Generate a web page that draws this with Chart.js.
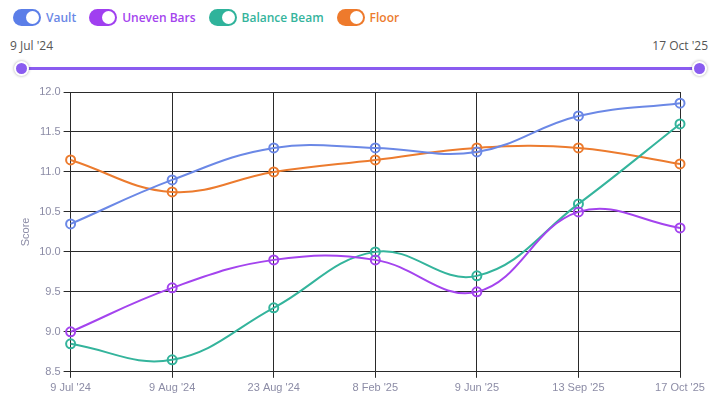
<!DOCTYPE html>
<html>
<head>
<meta charset="utf-8">
<script src="https://cdn.jsdelivr.net/npm/chart.js@4"></script>
<style>
  body { margin: 0; background: #fff; font-family: "Open Sans", Arial, sans-serif; }
  #wrap { position: relative; width: 724px; height: 415px; }
  #legend { position: absolute; left: 13px; top: 9px; display: flex; }
  .item { display: flex; align-items: center; margin-right: 13px; font-size: 12px; font-weight: 600; }
  .toggle { width: 28px; height: 17px; border-radius: 9px; position: relative; margin-right: 5px; }
  .toggle:after { content: ""; position: absolute; right: 2px; top: 2px; width: 13px; height: 13px; border-radius: 50%; background: #fff; }
  .lbl { position: absolute; top: 37px; font-size: 12px; color: #555; }
  #track { position: absolute; left: 22px; top: 67px; width: 678px; height: 3px; background: #8a5cf0; }
  .thumb { position: absolute; top: 61px; width: 11px; height: 11px; border-radius: 50%; background: #8a5cf0; border: 2px solid #fff; box-shadow: 0 0 3px rgba(0,0,0,0.35); }
  #chartBox { position: absolute; left: 0; top: 80px; width: 724px; height: 335px; }
</style>
</head>
<body>
<div id="wrap">
  <div id="legend"></div>
  <div class="lbl" style="left:10px">9 Jul '24</div>
  <div class="lbl" style="right:16px">17 Oct '25</div>
  <div id="track"></div>
  <div class="thumb" style="left:14px"></div>
  <div class="thumb" style="left:692px"></div>
  <div id="chartBox"><canvas id="mycanvas"></canvas></div>
</div>
<script>
var dates = ["9 Jul '24", "9 Aug '24", "23 Aug '24", "8 Feb '25", "9 Jun '25", "13 Sep '25", "17 Oct '25"];
var vault = [10.35, 10.9, 11.3, 11.3, 11.25, 11.7, 11.86];
var unevenBars = [9.0, 9.55, 9.9, 9.9, 9.5, 10.5, 10.3];
var balanceBeam = [8.85, 8.65, 9.3, 10.0, 9.7, 10.6, 11.6];
var floorScores = [11.15, 10.75, 11.0, 11.15, 11.3, 11.3, 11.1];
var yTicks = [8.5, 9.0, 9.5, 10.0, 10.5, 11.0, 11.5, 12.0];

var series = [
	{ name: "Vault", data: vault, color: "#6b88e6", dark: "#5b7ee8" },
	{ name: "Uneven Bars", data: unevenBars, color: "#a444ee", dark: "#a03ff0" },
	{ name: "Balance Beam", data: balanceBeam, color: "#34b49c", dark: "#2fb39b" },
	{ name: "Floor", data: floorScores, color: "#ec7b2e", dark: "#ee7a2c" }
];

var legend = document.getElementById("legend");
series.forEach(function(s){
	var it = document.createElement("div");
	it.className = "item";
	it.innerHTML = '<span class="toggle" style="background:' + s.dark + '"></span><span style="color:' + s.color + '">' + s.name + '</span>';
	legend.appendChild(it);
});

var datasets = series.map(function(s){
	return {
		label: s.name,
		data: s.data,
		borderColor: s.color,
		backgroundColor: "transparent",
		borderWidth: 2,
		pointRadius: 4.5,
		pointBorderWidth: 2,
		pointBackgroundColor: "transparent",
		pointBorderColor: s.color,
		tension: 0.4,
		fill: false
	};
});

var ctx = document.getElementById("mycanvas");
var chart = new Chart(ctx, {
	type: "line",
	data: { labels: dates, datasets: datasets },
	options: {
		responsive: true,
		maintainAspectRatio: false,
		animation: false,
		layout: { padding: { top: 12, right: 44, left: 15, bottom: 16 } },
		plugins: { legend: { display: false }, tooltip: { enabled: false } },
		scales: {
			x: {
				offset: false,
				grid: { color: "#2a2a2a", lineWidth: 1, tickLength: 6 },
				border: { color: "#2a2a2a" },
				ticks: { color: "#8c8ca6", font: { family: "Liberation Sans, Arial", size: 11 }, maxRotation: 0, padding: 4 }
			},
			y: {
				min: 8.5,
				max: 12,
				afterBuildTicks: function(axis){ axis.ticks = yTicks.map(function(v){ return { value: v }; }); },
				grid: { color: "#2a2a2a", lineWidth: 1, tickLength: 7 },
				border: { color: "#2a2a2a" },
				title: { display: true, text: "Score", color: "#8c8ca6", font: { family: "Liberation Sans, Arial", size: 11 } },
				ticks: { color: "#8c8ca6", font: { family: "Liberation Sans, Arial", size: 11 }, padding: 3, callback: function(v){ return v.toFixed(1); } }
			}
		}
	}
});
</script>
</body>
</html>
